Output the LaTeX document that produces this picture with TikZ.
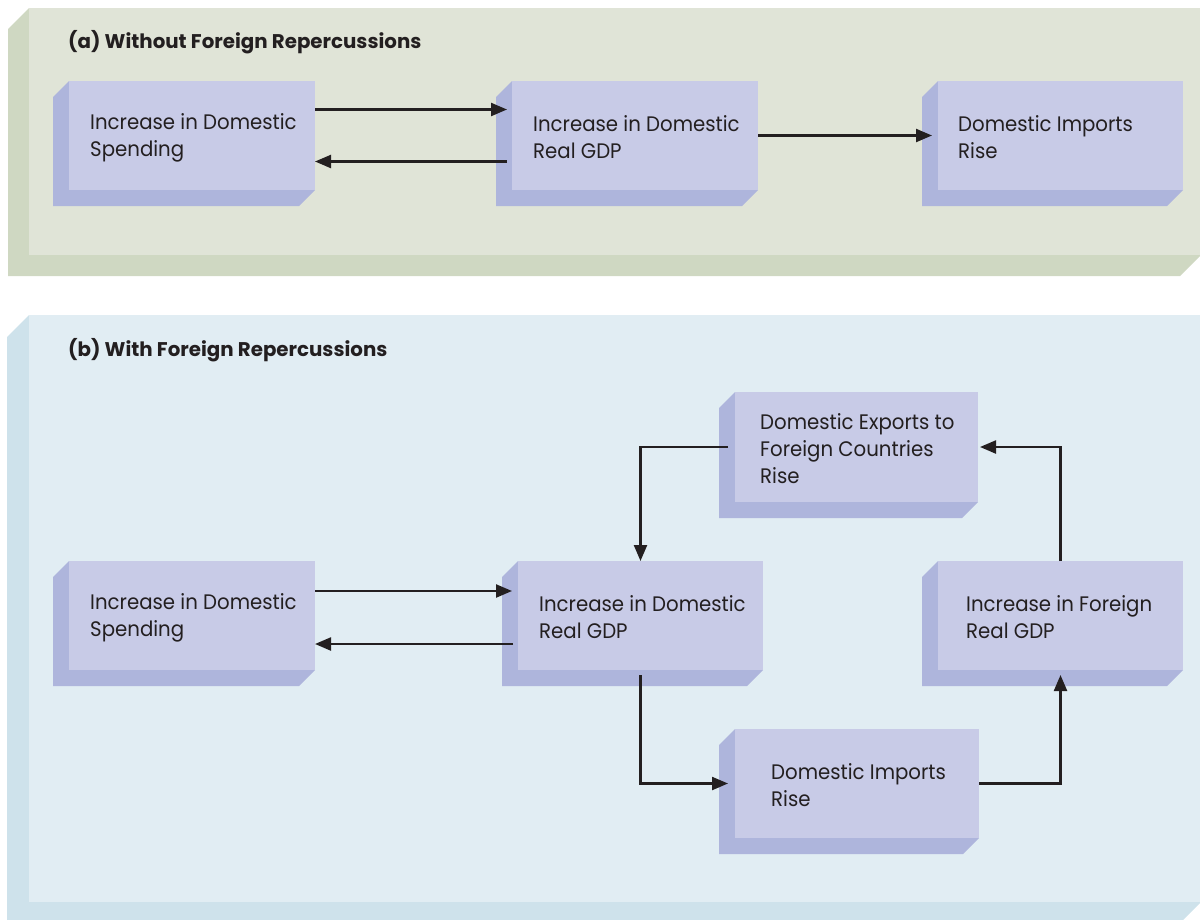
\documentclass[tikz,border=0pt]{standalone}
\usepackage{fontspec}
\setmainfont[FakeStretch=0.94]{Poppins}
\newfontfamily\headfont{Poppins}
\usetikzlibrary{arrows.meta,calc}

\definecolor{panelAface}{HTML}{E0E4D7}
\definecolor{panelAside}{HTML}{CFD8C2}
\definecolor{panelBface}{HTML}{E1EDF3}
\definecolor{panelBside}{HTML}{CEE2EB}
\definecolor{boxface}{HTML}{C8CBE7}
\definecolor{boxside}{HTML}{AEB5DC}
\definecolor{ink}{HTML}{231F20}

\pgfdeclarelayer{panelshade}
\pgfdeclarelayer{panel}
\pgfdeclarelayer{boxshade}
\pgfsetlayers{panelshade,panel,boxshade,main}

% thick bevelled side below and left of a face node
\newcommand\extrude[4]{%
  \begin{pgfonlayer}{#1}
    \fill[#2] (#3.north west) -- ++(-#4,-#4)
      -- ([shift={(-#4,-#4)}]#3.south west)
      -- ([shift={(-#4,-#4)}]#3.south east)
      -- (#3.south east) -- cycle;
  \end{pgfonlayer}}

\tikzset{
  face/.style={anchor=north west, inner sep=0pt, outer sep=0pt},
  panelface/.style={face},
  boxface/.style={face, fill=boxface, minimum height=109pt},
  boxtext/.style={anchor=west, inner sep=0pt, align=left, text=ink, yshift=-2pt,
    font=\fontsize{21}{27}\selectfont},
  titletext/.style={anchor=base west, inner sep=0pt, text=ink,
    font=\headfont\fontsize{19.8}{24}\selectfont\bfseries},
  arr/.style={draw=ink, line width=2.3pt,
    -{Triangle[length=16pt,width=13pt]}}
}

\begin{document}
\begin{tikzpicture}[x=1pt,y=-1pt]
\useasboundingbox (0,0) rectangle (1200,919);

% ---- panel (a)
\begin{pgfonlayer}{panel}
  \node[panelface, fill=panelAface, minimum width=1172pt, minimum height=247pt] (pa) at (29,8) {};
\end{pgfonlayer}
\extrude{panelshade}{panelAside}{pa}{21pt}
\node[titletext] (pat) at (68,48) {(a) Without Foreign Repercussions};

\node[boxface, minimum width=246pt] (a1) at (69,81) {};
\node[boxface, minimum width=246pt] (a2) at (512,81) {};
\node[boxface, minimum width=245pt] (a3) at (938,81) {};
\extrude{boxshade}{boxside}{a1}{16pt}
\extrude{boxshade}{boxside}{a2}{16pt}
\extrude{boxshade}{boxside}{a3}{16pt}
\node[boxtext] (a1t) at ([xshift=21pt]a1.west) {Increase in Domestic\\Spending};
\node[boxtext] (a2t) at ([xshift=21pt]a2.west) {Increase in Domestic\\Real GDP};
\node[boxtext] (a3t) at ([xshift=20pt]a3.west) {Domestic Imports\\Rise};

\draw[arr] ([yshift=26pt]a1.east) -- ([xshift=-5pt,yshift=26pt]a2.west);
\draw[arr] ([xshift=-5pt,yshift=-26pt]a2.west) -- ([yshift=-26pt]a1.east);
\draw[arr] (a2.east) -- ([xshift=-6pt]a3.west);

% ---- panel (b)
\begin{pgfonlayer}{panel}
  \node[panelface, fill=panelBface, minimum width=1172pt, minimum height=587pt] (pb) at (29,315) {};
\end{pgfonlayer}
\extrude{panelshade}{panelBside}{pb}{22pt}
\node[titletext] (pbt) at (68,356) {(b) With Foreign Repercussions};

\node[boxface, minimum width=246pt] (b1) at (69,561) {};
\node[boxface, minimum width=245pt] (b2) at (518,561) {};
\node[boxface, minimum width=243pt, minimum height=110pt] (b3) at (735,392) {};
\node[boxface, minimum width=245pt] (b4) at (938,561) {};
\node[boxface, minimum width=244pt] (b5) at (735,729) {};
\extrude{boxshade}{boxside}{b1}{16pt}
\extrude{boxshade}{boxside}{b2}{16pt}
\extrude{boxshade}{boxside}{b3}{16pt}
\extrude{boxshade}{boxside}{b4}{16pt}
\extrude{boxshade}{boxside}{b5}{16pt}
\node[boxtext] (b1t) at ([xshift=21pt]b1.west) {Increase in Domestic\\Spending};
\node[boxtext] (b2t) at ([xshift=21pt]b2.west) {Increase in Domestic\\Real GDP};
\node[boxtext] (b3t) at ([xshift=25pt]b3.west) {Domestic Exports to\\Foreign Countries\\Rise};
\node[boxtext] (b4t) at ([xshift=28pt]b4.west) {Increase in Foreign\\Real GDP};
\node[boxtext] (b5t) at ([xshift=36pt]b5.west) {Domestic Imports\\Rise};

\draw[arr] ([yshift=24.5pt]b1.east) -- ([xshift=-6pt,yshift=24.5pt]b2.west);
\draw[arr] ([xshift=-5pt,yshift=-28.5pt]b2.west) -- ([yshift=-28.5pt]b1.east);
\draw[arr] ([xshift=-7pt]b3.west) -| (b2.north);
\draw[arr] ([yshift=-5pt]b2.south) |- ([xshift=-7pt]b5.west);
\draw[arr] (b5.east) -| ([yshift=-5pt]b4.south);
\draw[arr] (b4.north) |- ([xshift=2pt]b3.east);
\end{tikzpicture}
\end{document}
